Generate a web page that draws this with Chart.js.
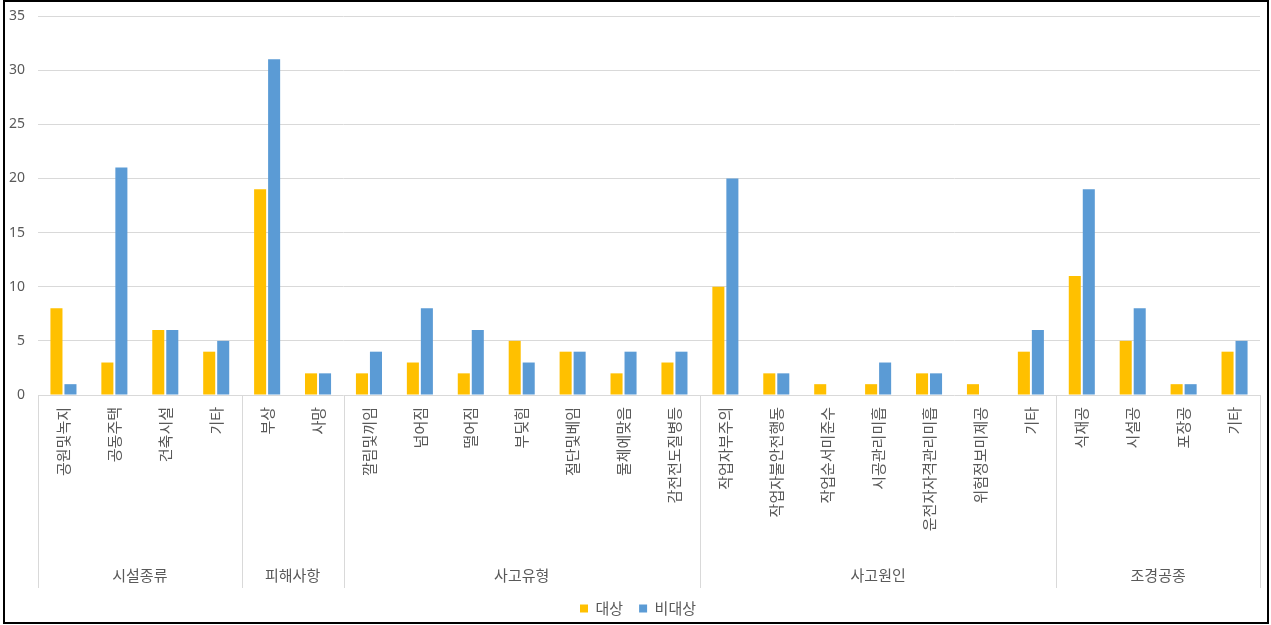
<!DOCTYPE html>
<html><head><meta charset="utf-8">
<script src="https://cdn.jsdelivr.net/npm/chart.js@4"></script>
<style>
html,body{margin:0;padding:0;background:#fff;}
#wrap{position:relative;width:1271px;height:625px;overflow:hidden;}
#frame{position:absolute;left:3px;top:0;width:1266px;height:624px;border:2px solid #000;box-sizing:border-box;pointer-events:none;}
</style></head><body>
<div id="wrap"><canvas id="c" width="1271" height="625"></canvas><div id="frame"></div></div>
<script>
const categories = ['공원및녹지','공동주택','건축시설','기타','부상','사망','깔림및끼임','넘어짐','떨어짐','부딪힘','절단및베임','물체에맞음','감전전도질병등','작업자부주의','작업자불안전행동','작업순서미준수','시공관리미흡','운전자자격관리미흡','위험정보미제공','기타','식재공','시설공','포장공','기타'];
const groupNames = ['시설종류','피해사항','사고유형','사고원인','조경공종'];
const groupSizes = [4,2,7,7,4];
const targetValues = [8,3,6,4,19,2,2,3,2,5,4,2,3,10,2,1,1,2,1,4,11,5,1,4];
const nonTargetValues = [1,21,6,5,31,2,4,8,6,3,4,4,4,20,2,0,3,2,0,6,19,8,1,5];
const seriesNames = ['대상','비대상'];
const yMin = 0, yMax = 35, yStep = 5;

const TEXT = '#595959';
const GRID = '#d9d9d9';
const KFONT = "'Noto Sans CJK KR', 'Noto Sans', sans-serif";

const groupAxis = {
  id: 'groupAxis',
  afterLayout(chart) {
    if (chart.legend) chart.legend.left += 16;
  },
  afterDraw(chart) {
    const {ctx, chartArea, scales} = chart;
    const x = scales.x;
    const top = chartArea.bottom, bottom = 588;
    const bounds = [chartArea.left];
    let idx = 0;
    groupSizes.forEach(s => {
      idx += s;
      bounds.push(idx < categories.length ? (x.getPixelForValue(idx - 1) + x.getPixelForValue(idx)) / 2 : chartArea.right);
    });
    ctx.save();
    ctx.strokeStyle = GRID;
    ctx.lineWidth = 1;
    bounds.forEach(b => {
      const px = Math.round(b) + 0.5;
      ctx.beginPath(); ctx.moveTo(px, top); ctx.lineTo(px, bottom); ctx.stroke();
    });
    ctx.fillStyle = TEXT;
    ctx.font = "15px " + KFONT;
    ctx.textAlign = 'center';
    ctx.textBaseline = 'middle';
    groupNames.forEach((g, i) => {
      ctx.fillText(g, (bounds[i] + bounds[i + 1]) / 2, 575);
    });
    ctx.restore();
  }
};

new Chart(document.getElementById('c'), {
  type: 'bar',
  data: {
    labels: categories,
    datasets: [
      {label: seriesNames[0], data: targetValues, backgroundColor: '#FFC000', categoryPercentage: 0.55, barPercentage: 0.86},
      {label: seriesNames[1], data: nonTargetValues, backgroundColor: '#5B9BD5', categoryPercentage: 0.55, barPercentage: 0.86}
    ]
  },
  options: {
    responsive: false,
    animation: false,
    layout: {padding: {left: 0, right: 11, top: 16, bottom: -1}},
    plugins: {
      tooltip: {enabled: false},
      legend: {
        position: 'bottom',
        labels: {boxWidth: 8, boxHeight: 8, padding: 16, color: TEXT, font: {size: 15, family: KFONT}}
      }
    },
    scales: {
      x: {
        grid: {display: false, drawTicks: false},
        border: {display: false},
        ticks: {autoSkip: false, minRotation: 90, maxRotation: 90, padding: 12, color: TEXT, font: {size: 15, family: KFONT}},
        afterFit(scale) { scale.height = 190; }
      },
      y: {
        min: yMin, max: yMax,
        grid: {color: GRID, drawTicks: false},
        border: {display: false},
        ticks: {stepSize: yStep, padding: 13, color: TEXT, font: {size: 14, family: "'Noto Sans', sans-serif"}},
        afterFit(scale) { scale.width = 38; scale.paddingTop = 0; scale.paddingBottom = 0; }
      }
    }
  },
  plugins: [groupAxis]
});
</script>
</body></html>
